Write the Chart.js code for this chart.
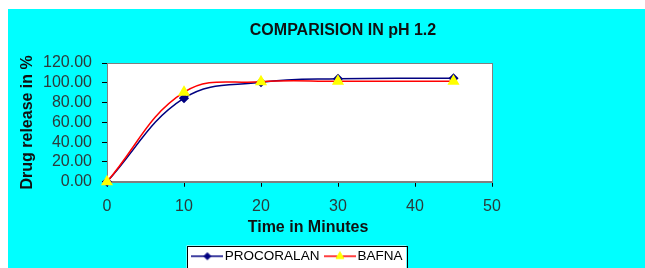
<!DOCTYPE html>
<html><head><meta charset="utf-8">
<script src="https://cdn.jsdelivr.net/npm/chart.js@4"></script>
<style>
html,body{margin:0;padding:0;background:#fff;}
#wrap{position:absolute;left:8px;top:9px;width:637px;height:259px;background:#00FFFF;overflow:hidden;}
canvas{display:block;}
</style></head><body>
<div id="wrap"><canvas id="c" width="637" height="259"></canvas></div>
<script>
const chartTitle = 'COMPARISION IN pH 1.2';
const xAxisTitle = 'Time in Minutes';
const yAxisTitle = 'Drug release in %';
const seriesNames = ['PROCORALAN', 'BAFNA'];
const timeMinutes = [0, 10, 20, 30, 45];
const procoralanRelease = [0, 84.5, 100.5, 104, 104.5];
const bafnaRelease = [0, 90.5, 101, 101.5, 101.5];
const xTickValues = [0, 10, 20, 30, 40, 50];
const yTickValues = [0, 20, 40, 60, 80, 100, 120];

const FONT = '"Liberation Sans", Arial, sans-serif';

function legendIcon(lineColor, pointStyle, fill, radius) {
  const c = document.createElement('canvas');
  c.width = 32; c.height = 12;
  const g = c.getContext('2d');
  g.strokeStyle = lineColor; g.lineWidth = 1.5;
  g.beginPath(); g.moveTo(0, 6); g.lineTo(32, 6); g.stroke();
  g.fillStyle = fill; g.strokeStyle = fill; g.lineWidth = 1;
  Chart.helpers.drawPoint(g, {pointStyle: pointStyle, radius: radius, rotation: 0, borderWidth: 1}, 16, 6);
  return c;
}

const framePlugin = {
  id: 'frame',
  beforeDraw(chart) {
    const {ctx, chartArea: a} = chart;
    ctx.save();
    ctx.fillStyle = '#ffffff';
    ctx.fillRect(a.left, a.top, a.right - a.left, a.bottom - a.top);
    const lg = chart.legend;
    if (lg && lg.legendHitBoxes && lg.legendHitBoxes.length) {
      const hb = lg.legendHitBoxes;
      const l = Math.min(...hb.map(b => b.left)) - 10;
      const r = Math.max(...hb.map(b => b.left + b.width)) + 4;
      const t = Math.min(...hb.map(b => b.top)) - 4;
      const bt = Math.max(...hb.map(b => b.top + b.height)) + 8;
      ctx.fillRect(l, t, r - l, bt - t);
      ctx.strokeStyle = '#000'; ctx.lineWidth = 1;
      ctx.strokeRect(Math.round(l) + 0.5, Math.round(t) + 0.5, Math.round(r - l), Math.round(bt - t));
    }
    ctx.fillStyle = '#111';
    ctx.textAlign = 'center';
    ctx.textBaseline = 'middle';
    // chart title
    ctx.font = 'bold 16px ' + FONT;
    ctx.fillText(chartTitle, 335, 22);
    // x axis title
    ctx.fillText(xAxisTitle, 300, 218.5);
    ctx.restore();
  },
  beforeDatasetsDraw(chart) {
    const {ctx, chartArea: a} = chart;
    ctx.save();
    ctx.strokeStyle = '#808080'; ctx.lineWidth = 1;
    ctx.strokeRect(Math.round(a.left) + 0.5, Math.round(a.top) + 0.5, Math.round(a.right - a.left), Math.round(a.bottom - a.top));
    ctx.restore();
  }
};

const ctx = document.getElementById('c');
new Chart(ctx, {
  type: 'line',
  data: {
    datasets: [
      {
        label: seriesNames[0],
        data: timeMinutes.map((t, i) => ({x: t, y: procoralanRelease[i]})),
        borderColor: '#000080', backgroundColor: '#000080',
        borderWidth: 1.5, pointStyle: 'rectRot', pointRadius: 4,
        pointBackgroundColor: '#000080', pointBorderColor: '#000080',
        tension: 0.4, clip: false, order: 1
      },
      {
        label: seriesNames[1],
        data: timeMinutes.map((t, i) => ({x: t, y: bafnaRelease[i]})),
        borderColor: '#ff0000', backgroundColor: '#ffff00',
        borderWidth: 1.5, pointStyle: 'triangle', pointRadius: 5.5,
        pointBackgroundColor: '#ffff00', pointBorderColor: '#ffff00',
        tension: 0.4, clip: false, order: 0
      }
    ]
  },
  options: {
    responsive: false, animation: false, devicePixelRatio: 1,
    layout: {padding: {left: 0, right: 153, top: 54, bottom: -5}},
    plugins: {
      title: {display: false},
      legend: {
        display: true, position: 'bottom', fullSize: false,
        labels: {
          color: '#000', font: {family: FONT, size: 13.5},
          usePointStyle: true, pointStyleWidth: 21.5, boxHeight: 12, padding: 9.75,
          generateLabels(chart) {
            const icons = [legendIcon('#000080', 'rectRot', '#000080', 3.5), legendIcon('#ff0000', 'triangle', '#ffff00', 4.5)];
            return chart.data.datasets.map((d, i) => ({
              text: d.label, pointStyle: icons[i], fillStyle: 'transparent', strokeStyle: 'transparent',
              lineWidth: 0, datasetIndex: i, hidden: false, fontColor: '#000'
            }));
          }
        }
      },
      tooltip: {enabled: false}
    },
    scales: {
      x: {
        type: 'linear', min: 0, max: 50,
        afterBuildTicks(s) { s.ticks = xTickValues.map(v => ({value: v})); },
        afterFit(s) { s.height = 58; },
        ticks: {color: '#2b3b3b', font: {family: FONT, size: 16}, padding: 10, autoSkip: false, maxRotation: 0},
        grid: {drawOnChartArea: false, tickLength: 5, color: '#000'},
        border: {color: '#808080'},
        title: {display: false, text: xAxisTitle}
      },
      y: {
        min: 0, max: 120,
        afterBuildTicks(s) { s.ticks = yTickValues.map(v => ({value: v})); },
        afterFit(s) { s.width = 99; },
        ticks: {color: '#2b3b3b', font: {family: FONT, size: 16}, padding: 10, autoSkip: false, callback: v => Number(v).toFixed(2)},
        grid: {drawOnChartArea: false, tickLength: 5, color: '#000'},
        border: {color: '#808080'},
        title: {display: true, text: yAxisTitle, color: '#111', font: {family: FONT, size: 16, weight: 'bold'}, padding: {top: 10, bottom: 0}}
      }
    }
  },
  plugins: [framePlugin]
});
</script>
</body></html>
